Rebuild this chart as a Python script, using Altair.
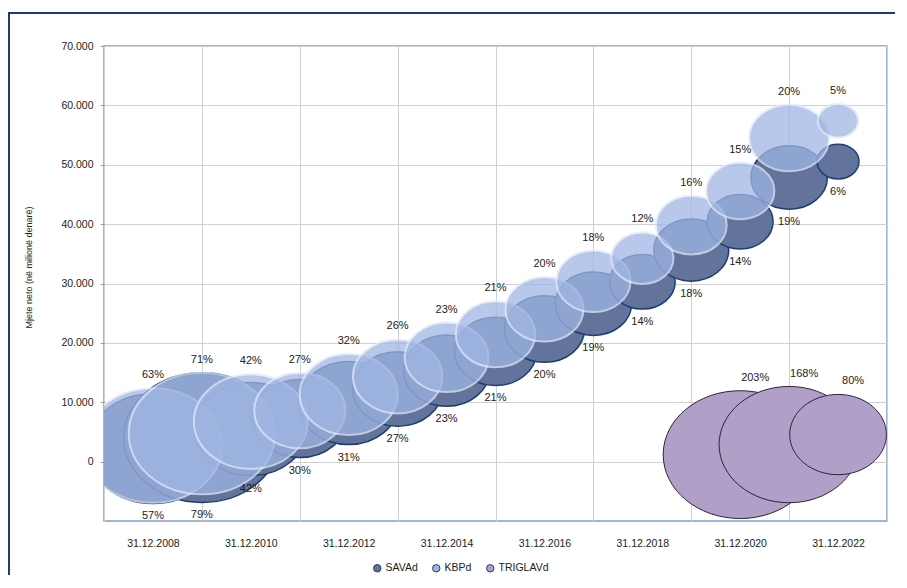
import altair as alt
import pandas as pd

# ---- data ----
years = list(range(2008, 2023))
sava_values = [2190, 4050, 5490, 7260, 9870, 12220, 15310, 18570, 22320, 26590, 30280, 35630, 40410, 47850, 50540]
sava_sizes = [149, 209, 108, 76, 86, 69, 63, 58, 55, 50, 37, 48, 37, 50, 15]
sava_labels = ["57%", "79%", "42%", "30%", "31%", "27%", "23%", "21%", "20%", "19%", "14%", "18%", "14%", "19%", "6%"]

kbp_values = [2700, 4730, 6750, 8610, 11310, 14350, 17560, 21440, 25660, 30380, 34270, 39840, 45580, 54520, 57390]
kbp_sizes = [163, 183, 111, 71, 82, 68, 60, 54, 52, 47, 33, 43, 40, 55, 14]
kbp_labels = ["63%", "71%", "42%", "27%", "32%", "26%", "23%", "21%", "20%", "18%", "12%", "16%", "15%", "20%", "5%"]

triglav_years = [2020, 2021, 2022]
triglav_values = [1180, 2870, 4560]
triglav_sizes = [203, 168, 80]
triglav_labels = ["203%", "168%", "80%"]

series_names = ["SAVAd", "KBPd", "TRIGLAVd"]
series_colors = ["#62739c", "#9fb6e3", "#b09fc6"]

rows = []
for i, y in enumerate(years):
    rows.append(dict(series="SAVAd", year=y, value=sava_values[i], size=sava_sizes[i], label=sava_labels[i], idx=i))
for i, y in enumerate(years):
    rows.append(dict(series="KBPd", year=y, value=kbp_values[i], size=kbp_sizes[i], label=kbp_labels[i], idx=i))
for i, y in enumerate(triglav_years):
    rows.append(dict(series="TRIGLAVd", year=y, value=triglav_values[i], size=triglav_sizes[i], label=triglav_labels[i], idx=i))
df = pd.DataFrame(rows)

W, H = 783, 475
ELLIPSE = "M -1 0 A 1 0.83 0 1 0 1 0 A 1 0.83 0 1 0 -1 0 Z"
UNITS_PER_PX = 80000 / H

x_axis = alt.Axis(
    values=list(range(2007, 2024, 2)),
    labelExpr="datum.value < 2023 ? '31.12.' + (datum.value + 1) : ''",
    labelOffset=W / 16, ticks=False, domain=False, grid=True,
    gridColor="#d0d0d0", labelPadding=17, labelFontSize=10.5,
    labelFlush=False, labelOverlap=False, labelBound=False,
    labelColor="#222222", title=None,
)
y_axis = alt.Axis(
    values=list(range(0, 70001, 10000)),
    labelExpr="replace(format(datum.value, ','), ',', '.')",
    grid=True, gridColor="#d0d0d0", domain=False, tickColor="#a0a0a0",
    tickSize=4, labelPadding=7, labelFontSize=10.5, labelColor="#222222",
    title="Mjete neto (në milionë denarë)", titleFontSize=9,
    titleFontWeight="normal", titleAngle=270, titleX=-76, titleY=221,
    titleAlign="center", titleBaseline="middle", titleColor="#222222",
)

X = alt.X("year:Q", scale=alt.Scale(domain=[2007, 2023], nice=False, zero=False), axis=x_axis)
Y = alt.Y("value:Q", scale=alt.Scale(domain=[-10000, 70000], nice=False, zero=False), axis=y_axis)
YL = alt.Y("ly:Q", scale=alt.Scale(domain=[-10000, 70000], nice=False, zero=False), axis=y_axis)
SIZE = alt.Size("size:Q", scale=alt.Scale(domain=[0, 203], range=[0, 154 * 154]), legend=None)
legend = alt.Legend(
    orient="none", legendX=268, legendY=517, direction="horizontal", title=None,
    symbolType="circle", symbolSize=55, labelFontSize=10.5, columnPadding=12,
    labelOffset=3, padding=0, symbolStrokeWidth=1, labelColor="#222222",
)
FILL = alt.Fill("series:N", scale=alt.Scale(domain=series_names, range=series_colors), legend=legend)

base = alt.Chart(df)

sava = base.transform_filter(alt.datum.series == "SAVAd").mark_point(
    shape=ELLIPSE, filled=True, stroke="#1f3d73", strokeWidth=1.5, opacity=1, clip=True
).encode(x=X, y=Y, size=SIZE, fill=FILL, order="idx:Q")

kbp = base.transform_filter(alt.datum.series == "KBPd").mark_point(
    shape=ELLIPSE, filled=True, stroke="#e1e9f8", strokeWidth=2, opacity=0.75, clip=True
).encode(x=X, y=Y, size=SIZE, fill=FILL, order="idx:Q")

tri = base.transform_filter(alt.datum.series == "TRIGLAVd").mark_point(
    shape=ELLIPSE, filled=True, stroke="#2f2240", strokeWidth=1, opacity=1, clip=True
).encode(x=X, y=Y, size=SIZE, fill=FILL, order="idx:Q")

off = f"(4.48 * sqrt(datum.size) + 13) * {UNITS_PER_PX}"

sava_txt = base.transform_filter(alt.datum.series == "SAVAd").transform_calculate(
    ly=f"datum.value - {off}"
).mark_text(fontSize=11, color="#222222", baseline="middle").encode(x=X, y=YL, text="label:N")

kbp_txt = base.transform_filter(alt.datum.series == "KBPd").transform_calculate(
    ly=f"datum.value + {off}"
).mark_text(fontSize=11, color="#222222", baseline="middle").encode(x=X, y=YL, text="label:N")

tri_txt = base.transform_filter(alt.datum.series == "TRIGLAVd").transform_calculate(
    ly=f"datum.value + {off}"
).mark_text(fontSize=11, color="#222222", baseline="middle", dx=15).encode(x=X, y=YL, text="label:N")

one = pd.DataFrame({"a": [0]})
frame_top = alt.Chart(one).mark_rule(color="#1f3a78", strokeWidth=2).encode(
    x=alt.value(-96), x2=alt.value(W + 8), y=alt.value(-33)
)
frame_left = alt.Chart(one).mark_rule(color="#1f3a78", strokeWidth=2).encode(
    x=alt.value(-95), y=alt.value(-33), y2=alt.value(H + 60)
)

chart = alt.layer(
    frame_top, frame_left, sava, kbp, tri, sava_txt, kbp_txt, tri_txt
).properties(
    width=W, height=H,
    padding={"left": 96, "top": 38, "right": 8, "bottom": 54},
    autosize=alt.AutoSizeParams(type="none"),
).configure(
    font="Liberation Sans",
).configure_view(
    stroke="#7f9fd0", strokeWidth=1.5
)

chart.save("out.html", embed_options={"renderer": "svg", "actions": False})
